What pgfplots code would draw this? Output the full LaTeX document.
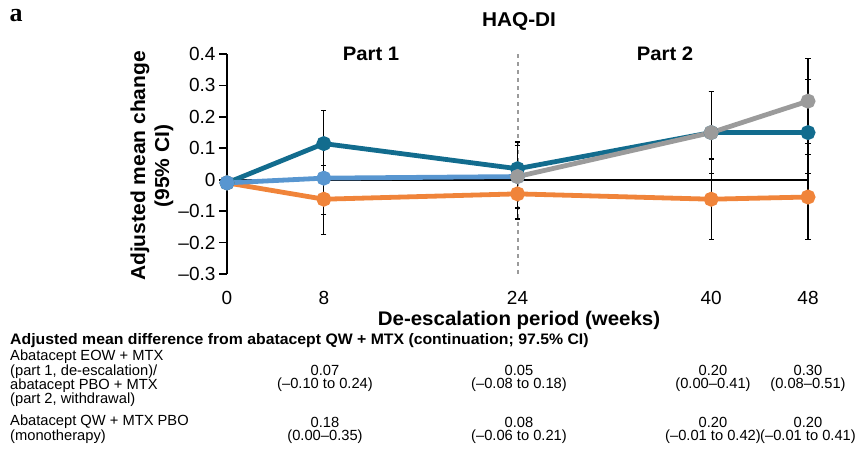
\documentclass[border=0pt]{standalone}
\usepackage{fontspec}
\setmainfont{Liberation Sans}
\newfontfamily\boldwide{Liberation Sans}[FakeStretch=1.04]
\newfontfamily\panelfont{Liberation Serif}
\usepackage{pgfplots}
\usepackage{pgfplotstable}
\pgfplotsset{compat=1.18}
\definecolor{haqteal}{RGB}{18,108,142}
\definecolor{haqblue}{RGB}{88,150,208}
\definecolor{haqgrey}{RGB}{155,155,155}
\definecolor{haqorange}{RGB}{240,132,58}

% week, mean change, CI plus, CI minus
\pgfplotstableread{
x y ep em
0 -0.010 0 0
8 -0.062 0.107 0.113
24 -0.045 0.080 0.080
40 -0.062 0.128 0.128
48 -0.055 0.135 0.135
}\orangedata
\pgfplotstableread{
x y ep em
0 -0.010 0 0
8 0.115 0.105 0.105
24 0.035 0.085 0.085
40 0.150 0.130 0.130
48 0.150 0.170 0.130
}\tealdata
\pgfplotstableread{
x y ep em
0 -0.010 0 0
8 0.005 0.115 0.115
24 0.010 0.100 0.100
}\bluedata
\pgfplotstableread{
x y ep em
24 0.010 0 0
40 0.150 0.130 0.130
48 0.250 0.135 0.135
}\greydata

\begin{document}
\begin{tikzpicture}[x=1pt,y=1pt]
\path[use as bounding box] (0,0) rectangle (861,-459);
\begin{axis}[
  at={(227pt,-274pt)}, anchor=south west,
  scale only axis, width=581pt, height=220pt,
  xmin=0, xmax=48, ymin=-0.3, ymax=0.4,
  clip=false,
  axis lines*=left,
  x axis line style={draw=none},
  y axis line style={line width=2pt},
  xtick={0,8,24,40,48},
  xtick style={draw=none},
  ytick={-0.3,-0.2,-0.1,0,0.1,0.2,0.3,0.4},
  yticklabels={–0.3,–0.2,–0.1,0,0.1,0.2,0.3,0.4},
  ytick style={line width=1.8pt, black},
  tick align=outside,
  major tick length=8pt,
  tick label style={font=\fontsize{19}{19}\selectfont},
  /pgf/number format/assume math mode=true,
  xticklabel style={yshift=-6pt},
  cibars/.style={forget plot, draw opacity=0, mark=none,
    error bars/.cd, y dir=both, y explicit,
    error bar style={black, draw opacity=1, line width=1.3pt},
    error mark options={rotate=90, black, draw opacity=1, line width=1.3pt, mark size=2.6pt}},
  series/.style={#1, line width=4.8pt, mark=*, mark size=5pt},
]
\draw[black, line width=1.8pt] (axis cs:0,0) -- (axis cs:48,0);
\draw[haqgrey, line width=2pt, dash pattern=on 4pt off 4pt] (axis cs:24,0.4) -- (axis cs:24,-0.3);
% 95% CI bars, drawn under the lines
\addplot[cibars] table[x=x, y=y, y error plus=ep, y error minus=em] {\orangedata};
\addplot[cibars] table[x=x, y=y, y error plus=ep, y error minus=em] {\tealdata};
\addplot[cibars] table[x=x, y=y, y error plus=ep, y error minus=em] {\bluedata};
\addplot[cibars] table[x=x, y=y, y error plus=ep, y error minus=em] {\greydata};
% adjusted mean change
\addplot[series=haqorange] table[x=x, y=y] {\orangedata};
\addplot[series=haqteal] table[x=x, y=y] {\tealdata};
\addplot[series=haqblue] table[x=x, y=y] {\bluedata};
\addplot[series=haqgrey] table[x=x, y=y] {\greydata};
\end{axis}

\node[font=\panelfont\bfseries\fontsize{26}{26}\selectfont] at (16,-16) {a};
\node[font=\boldwide\bfseries\fontsize{20}{20}\selectfont] at (519,-21) {HAQ-DI};
\node[font=\boldwide\bfseries\fontsize{19.5}{19.5}\selectfont] at (371,-54) {Part 1};
\node[font=\boldwide\bfseries\fontsize{19.5}{19.5}\selectfont] at (665,-54) {Part 2};
\node[font=\boldwide\bfseries\fontsize{20.2}{24}\selectfont, rotate=90, align=center] at (152,-166) {Adjusted mean change\\(95\% CI)};
\node[font=\boldwide\bfseries\fontsize{19.7}{20}\selectfont] at (519,-320) {De-escalation period (weeks)};

\begin{scope}[every node/.style={font=\fontsize{14.7}{15}\selectfont, inner sep=0pt}]
\node[anchor=west, font=\boldwide\bfseries\fontsize{15.2}{15}\selectfont] at (10,-341) {Adjusted mean difference from abatacept QW + MTX (continuation; 97.5\% CI)};
\node[anchor=west] at (10,-357) {Abatacept EOW + MTX};
\node[anchor=west] at (10,-371.5) {(part 1, de-escalation)/};
\node[anchor=west] at (10,-385.5) {abatacept PBO + MTX};
\node[anchor=west] at (10,-399.5) {(part 2, withdrawal)};
\node[anchor=west] at (10,-422) {Abatacept QW + MTX PBO};
\node[anchor=west] at (10,-437) {(monotherapy)};
\node at (325,-370) {0.07};
\node at (325,-385) {(–0.10 to 0.24)};
\node at (519,-370) {0.05};
\node at (519,-385) {(–0.08 to 0.18)};
\node at (713,-370) {0.20};
\node at (713,-385) {(0.00–0.41)};
\node at (808,-370) {0.30};
\node at (808,-385) {(0.08–0.51)};
\node at (325,-422) {0.18};
\node at (325,-437) {(0.00–0.35)};
\node at (519,-422) {0.08};
\node at (519,-437) {(–0.06 to 0.21)};
\node at (713,-422) {0.20};
\node at (713,-437) {(–0.01 to 0.42)};
\node at (808,-422) {0.20};
\node at (808,-437) {(–0.01 to 0.41)};
\end{scope}
\end{tikzpicture}
\end{document}
